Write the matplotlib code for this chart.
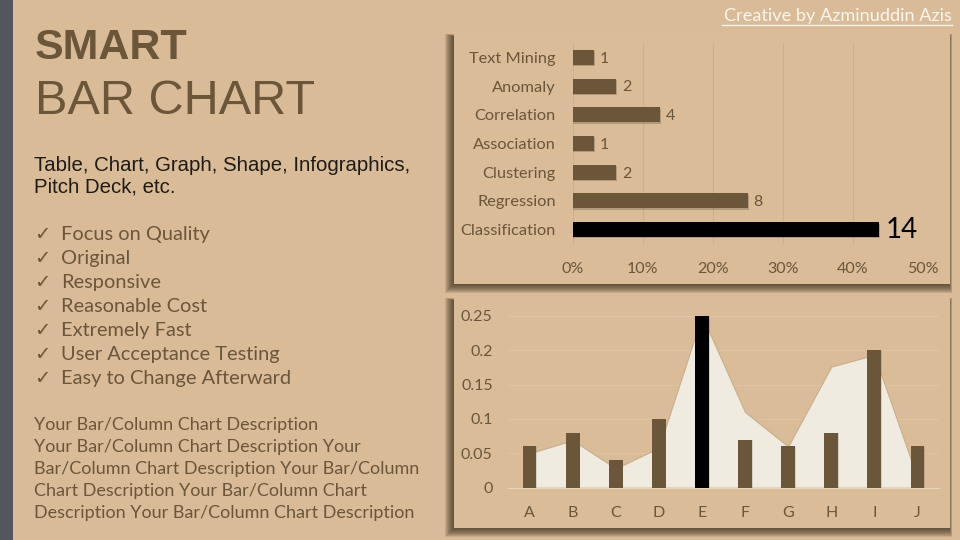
import matplotlib
matplotlib.use("Agg")
import numpy as np
import matplotlib.pyplot as plt
import matplotlib.patheffects as pe
from matplotlib.patches import Rectangle

#Data
bar_labels = ["Classification", "Regression", "Clustering", "Association", "Correlation", "Anomaly", "Text Mining"]
bar_counts = [14, 8, 2, 1, 4, 2, 1]
bar_total = 32
pct_ticks = [0, 10, 20, 30, 40, 50]

col_labels = ["A", "B", "C", "D", "E", "F", "G", "H", "I", "J"]
col_values = [0.06, 0.08, 0.04, 0.10, 0.25, 0.07, 0.06, 0.08, 0.20, 0.06]
area_values = [0.05, 0.069, 0.028, 0.058, 0.25, 0.11, 0.06, 0.176, 0.193, 0.014]
col_ticks = [0, 0.05, 0.1, 0.15, 0.2, 0.25]
col_tick_labels = ["0", "0.05", "0.1", "0.15", "0.2", "0.25"]

checklist = ["Focus on Quality", "Original", "Responsive", "Reasonable Cost",
             "Extremely Fast", "User Acceptance Testing", "Easy to Change Afterward"]
description = ["Your Bar/Column Chart Description",
               "Your Bar/Column Chart Description Your",
               "Bar/Column Chart Description Your Bar/Column",
               "Chart Description Your Bar/Column Chart",
               "Description Your Bar/Column Chart Description"]

BG = "#D9BB98"
BROWN = "#6B563A"
W, H = 960, 540

def px_axes(fig, x0, y0, x1, y1):
    #axes from pixel box, y measured from the top
    return fig.add_axes([x0/W, 1-y1/H, (x1-x0)/W, (y1-y0)/H])

fig = plt.figure(figsize=(9.6, 5.4), dpi=100, facecolor=BG)

#Background layer, in pixel coordinates
bg = fig.add_axes([0, 0, 1, 1])
bg.set_xlim(0, W)
bg.set_ylim(H, 0)
bg.axis("off")
bg.add_patch(Rectangle((0, 0), 13, H, color="#54555F", lw=0))

def panel(x0, y0, x1, y1):
    #soft shadow to the left and below, nothing on top
    for s in range(9, 0, -1):
        bg.add_patch(Rectangle((x0-s, y0+5-s/3), x1-x0+s-1+s/3, y1-y0-5+s+s/3,
                               color="#3A2E1C", alpha=0.13, lw=0))
    bg.add_patch(Rectangle((x0, y0), x1-x0, y1-y0, color="#DABC99", lw=0))

panel(454, 32, 950, 284)
panel(454, 296, 950, 528)

#Left column texts
bg.text(35, 48, "SMART", family="Liberation Sans", weight="bold", fontsize=31, color=BROWN, va="center")
bg.text(35, 102, "BAR CHART", family="Liberation Sans", fontsize=35, color=BROWN, va="center")
bg.text(34, 165.5, "Table, Chart, Graph, Shape, Infographics,", family="Liberation Sans", fontsize=14.7, color="#1E1A14", va="center")
bg.text(34, 187, "Pitch Deck, etc.", family="Liberation Sans", fontsize=14.7, color="#1E1A14", va="center")
for i, item in enumerate(checklist):
    y = 234.5 + i*24
    bg.text(34, y, "\u2713", family="DejaVu Sans", fontsize=14, color=BROWN, va="center")
    bg.text(61, y, item, family="Lato", fontsize=14.4, color=BROWN, va="center")
for i, line in enumerate(description):
    bg.text(34, 425 + i*21.9, line, family="Lato", fontsize=13, color=BROWN, va="center")

bg.text(952, 16, "Creative by Azminuddin Azis", family="Lato", fontsize=13.1, color="#FBF6EE", ha="right", va="center")
bg.plot([722, 952], [25, 25], color="#FBF6EE", lw=1)

#Horizontal bars
ax1 = px_axes(fig, 572.5, 43, 922.7, 244)
ax1.patch.set_alpha(0)
pct = [100*c/bar_total for c in bar_counts]
ypos = np.arange(len(bar_labels))
bar_colors = ["black"] + [BROWN]*(len(bar_labels)-1)
bars = ax1.barh(ypos, pct, height=0.52, color=bar_colors, zorder=3)
for b in bars:
    b.set_path_effects([pe.SimplePatchShadow(offset=(0.7, -1), shadow_rgbFace="#3E3220", alpha=0.25), pe.Normal()])
ax1.set_xlim(0, 50)
ax1.set_ylim(-0.5, len(bar_labels)-0.5)
ax1.set_xticks(pct_ticks)
ax1.set_xticklabels([str(t)+"%" for t in pct_ticks], family="Lato", fontsize=11.5, color=BROWN)
ax1.set_yticks(ypos)
ax1.set_yticklabels(bar_labels, family="Lato", fontsize=11.8, color=BROWN)
ax1.tick_params(length=0)
ax1.tick_params(axis="x", pad=13)
ax1.tick_params(axis="y", pad=12)
ax1.grid(axis="x", color="#CDAF8C", lw=0.8, zorder=0)
ax1.set_axisbelow(True)
for s in ax1.spines.values():
    s.set_visible(False)
for i, (c, p) in enumerate(zip(bar_counts, pct)):
    if i == 0:
        ax1.annotate(str(c), (p, i), xytext=(5, 0), textcoords="offset points", family="Lato",
                     fontsize=20, color="black", va="center")
    else:
        ax1.annotate(str(c), (p, i), xytext=(4, -1), textcoords="offset points", family="Lato",
                     fontsize=11.5, color=BROWN, va="center")

#Columns with area behind
ax2 = px_axes(fig, 508, 315.7, 939, 487.7)
ax2.patch.set_alpha(0)
xpos = np.arange(len(col_labels))
ax2.fill_between(xpos, area_values, 0, facecolor="#EFEBE0", edgecolor="#C9AE8D", lw=0.8, zorder=2)
col_colors = ["black" if v == max(col_values) else BROWN for v in col_values]
cols = ax2.bar(xpos, col_values, width=0.32, color=col_colors, zorder=3)
for b in cols:
    b.set_path_effects([pe.SimplePatchShadow(offset=(0.5, -0.3), shadow_rgbFace="#3E3220", alpha=0.15), pe.Normal()])
ax2.set_xlim(-0.5, len(col_labels)-0.5)
ax2.set_ylim(0, 0.25)
ax2.set_xticks(xpos)
ax2.set_xticklabels(col_labels, family="Lato", fontsize=11.5, color=BROWN)
ax2.set_yticks(col_ticks)
ax2.set_yticklabels(col_tick_labels, family="Lato", fontsize=11.5, color=BROWN)
ax2.tick_params(length=0)
ax2.tick_params(axis="x", pad=13)
ax2.tick_params(axis="y", pad=11)
ax2.grid(axis="y", color="#DFC3A2", lw=0.8, zorder=0)
ax2.set_axisbelow(True)
for s in ax2.spines.values():
    s.set_visible(False)
ax2.spines["bottom"].set_visible(True)
ax2.spines["bottom"].set_color("#E9D3B8")

fig.savefig("out.png", dpi=100, facecolor=BG)
